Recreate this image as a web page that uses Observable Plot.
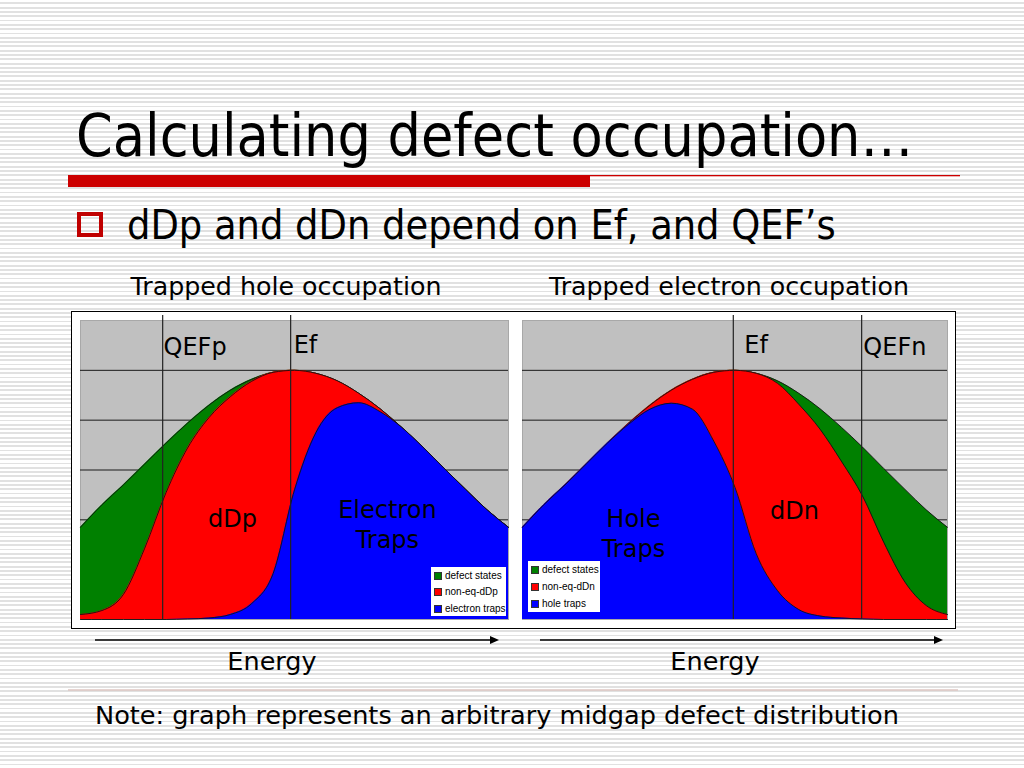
<!DOCTYPE html>
<html><head><meta charset="utf-8">
<script src="https://cdn.jsdelivr.net/npm/d3@7"></script>
<script src="https://cdn.jsdelivr.net/npm/@observablehq/plot@0.6"></script>
<style>
html,body{margin:0;padding:0;}
body{width:1024px;height:768px;overflow:hidden;position:relative;
 background:repeating-linear-gradient(to bottom,#ffffff 0px,#ffffff 2.4px,#e1e1e1 2.4px,#e1e1e1 4.3px);
 font-family:"DejaVu Sans",sans-serif;color:#000;}
.abs{position:absolute;white-space:nowrap;line-height:1;}
.cond{font-family:"DejaVu Sans Condensed","DejaVu Sans",sans-serif;font-stretch:condensed;}
.chart{position:absolute;top:311px;border:1px solid #000;background:#fff;height:316px;}
.chart svg{display:block;}
.legend{position:absolute;background:#fff;font-family:"Liberation Sans",Arial,sans-serif;font-size:10px;line-height:1;white-space:nowrap;}
.legend .row{position:absolute;left:3px;display:flex;align-items:center;white-space:nowrap;}
.legend .sw{width:6px;height:6px;border:1px solid #333;margin-right:3px;flex:none;}
</style></head>
<body>
<svg class="abs" width="1024" height="768" style="left:0;top:0">
  <rect x="68" y="175" width="522" height="12" fill="#cc0000"/>
  <rect x="590" y="175" width="370" height="1.3" fill="#cc0000"/>
  <rect x="79" y="214" width="22" height="21" fill="none" stroke="#c00000" stroke-width="4"/>
  <line x1="95" y1="640" x2="492" y2="640" stroke="#000" stroke-width="1.5"/>
  <polygon points="490,636 499,640 490,644" fill="#000"/>
  <line x1="540" y1="640" x2="936" y2="640" stroke="#000" stroke-width="1.5"/>
  <polygon points="934,636 943,640 934,644" fill="#000"/>
  <line x1="68" y1="690" x2="958" y2="690" stroke="#dcc6c2" stroke-width="1.5"/>
</svg>
<div class="abs cond" style="left:76px;top:107px;font-size:58.5px;">Calculating defect occupation…</div>
<div class="abs cond" style="left:127px;top:205px;font-size:41px;">dDp and dDn depend on Ef, and QEF’s</div>
<div class="abs" style="left:86px;width:400px;text-align:center;top:274px;font-size:25.3px;">Trapped hole occupation</div>
<div class="abs" style="left:529px;width:400px;text-align:center;top:274px;font-size:25.3px;">Trapped electron occupation</div>
<div class="abs" style="left:172px;width:200px;text-align:center;top:649px;font-size:25.5px;">Energy</div>
<div class="abs" style="left:615px;width:200px;text-align:center;top:649px;font-size:25.5px;">Energy</div>
<div class="abs" style="left:95px;top:703px;font-size:25.6px;">Note: graph represents an arbitrary midgap defect distribution</div>

<div class="chart" id="left" style="left:71px;width:444px;"></div>
<div class="chart" id="right" style="left:516px;width:439px;border-left:0;"></div>

<script>
// Energy axis (arbitrary units, 0 = left edge, 100 = right edge)
const energy = [0,5,10,15,20,25,30,35,40,45,50,55,60,65,70,75,80,85,90,95,100];
// total midgap defect distribution
const defectStates = [1.85,2.3,2.7,3.12,3.54,3.94,4.3,4.6,4.82,4.96,5.0,4.94,4.79,4.54,4.23,3.86,3.46,3.03,2.61,2.2,1.85];
// left chart: trapped hole occupation
const nonEqDDp = [0.1,0.18,0.5,1.43,2.55,3.44,4.05,4.47,4.78,4.96,5.0,4.94,4.79,4.54,4.23,3.86,3.46,3.03,2.61,2.2,1.85];
const electronTraps = [0,0,0,0,0,0.01,0.03,0.1,0.32,0.92,2.6,3.75,4.25,4.35,4.17,3.86,3.46,3.03,2.61,2.2,1.85];
// right chart: trapped electron occupation
const nonEqDDn = [1.85,2.3,2.7,3.12,3.54,3.94,4.3,4.6,4.82,4.96,5.0,4.94,4.74,4.32,3.82,3.18,2.48,1.55,0.75,0.28,0.1];
const holeTraps = [1.85,2.3,2.7,3.12,3.54,3.92,4.22,4.34,4.22,3.58,2.65,1.32,0.58,0.2,0.07,0.03,0.01,0,0,0,0];
// energy levels
const leftLevelNames = ["QEFp","Ef"];
const leftLevelValues = [19.2,49.1];
const rightLevelNames = ["Ef","QEFn"];
const rightLevelValues = [49.6,79.8];
const gridValues = [1,2,3,4,5];
const seriesColors = ["#008000","#ff0000","#0000ff"];
const leftLegend = ["defect states","non-eq-dDp","electron traps"];
const rightLegend = ["defect states","non-eq-dDn","hole traps"];

function makeChart(opts) {
  const rows = energy.map((e,i) => ({e, total: defectStates[i], mid: opts.mid[i], low: opts.low[i]}));
  const curve = "monotone-x";
  const levels = opts.levelValues.map((v,i) => ({v, name: opts.levelNames[i]}));
  return Plot.plot({
    width: opts.width, height: 316,
    marginTop: 8, marginBottom: 9, marginLeft: opts.mL, marginRight: opts.mR,
    x: {domain: [0,100], axis: null},
    y: {domain: [0,6], axis: null},
    style: {background: "#fff", fontFamily: "DejaVu Sans", overflow: "visible"},
    marks: [
      Plot.frame({fill: "#c0c0c0", stroke: "#a8a8a8"}),
      Plot.ruleY(gridValues, {stroke: "#1a1a1a", strokeWidth: 1}),
      Plot.areaY(rows, {x: "e", y: "total", fill: seriesColors[0], curve}),
      Plot.lineY(rows, {x: "e", y: "total", stroke: "#111", strokeWidth: 0.9, curve}),
      Plot.areaY(rows, {x: "e", y: "mid", fill: seriesColors[1], curve}),
      Plot.lineY(rows, {x: "e", y: "mid", stroke: "#111", strokeWidth: 0.9, curve}),
      Plot.areaY(rows, {x: "e", y: "low", fill: seriesColors[2], curve}),
      Plot.lineY(rows, {x: "e", y: "low", stroke: "#111", strokeWidth: 0.9, curve}),
      Plot.ruleX(levels, {x: "v", y1: 0, y2: 6.1, stroke: "#222", strokeWidth: 1.2}),
      Plot.text(opts.levelLabels, {x: "x", y: "y", text: "text", textAnchor: "start", fontSize: 24, fill: "#000"}),
      Plot.text(opts.areaLabels, {x: "x", y: "y", text: "text", textAnchor: "middle", lineAnchor: "middle", lineHeight: 1.25, fontSize: 24, fill: "#000"})
    ]
  });
}

function legend(parent, names, box, rowsY) {
  const d = document.createElement("div");
  d.className = "legend";
  Object.assign(d.style, {left: box[0]+"px", top: box[1]+"px", width: box[2]+"px", height: box[3]+"px"});
  names.forEach((n,i) => {
    const r = document.createElement("div");
    r.className = "row";
    r.style.top = (rowsY[i]-5) + "px";
    const s = document.createElement("span");
    s.className = "sw"; s.style.background = seriesColors[i];
    const t = document.createElement("span"); t.textContent = n;
    r.appendChild(s); r.appendChild(t);
    d.appendChild(r);
  });
  parent.appendChild(d);
}

const left = document.getElementById("left");
left.appendChild(makeChart({
  width: 444, mL: 8, mR: 8,
  mid: nonEqDDp, low: electronTraps,
  levelNames: leftLevelNames, levelValues: leftLevelValues,
  levelLabels: [{x: 19.4, y: 5.46, text: "QEFp"}, {x: 49.8, y: 5.5, text: "Ef"}],
  areaLabels: [{x: 35.5, y: 2.05, text: "dDp"}, {x: 71.7, y: 1.93, text: "Electron\nTraps"}]
}));
legend(left, leftLegend, [359, 255, 75, 49], [9, 25, 42]);

const right = document.getElementById("right");
right.appendChild(makeChart({
  width: 439, mL: 6, mR: 8,
  mid: nonEqDDn, low: holeTraps,
  levelNames: rightLevelNames, levelValues: rightLevelValues,
  levelLabels: [{x: 52.2, y: 5.5, text: "Ef"}, {x: 80.2, y: 5.46, text: "QEFn"}],
  areaLabels: [{x: 64, y: 2.21, text: "dDn"}, {x: 26.1, y: 1.75, text: "Hole\nTraps"}]
}));
legend(right, rightLegend, [12, 249, 72, 51], [9, 26, 43]);
</script>
</body></html>
